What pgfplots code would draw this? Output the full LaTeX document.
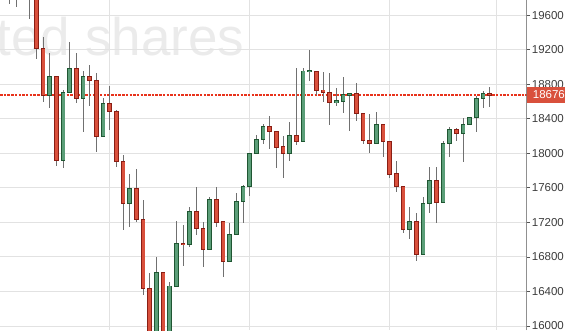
\documentclass[border=0pt]{standalone}
\usepackage{fontspec}
\setmainfont{Liberation Sans}
\usepackage{pgfplots}
\usepackage{pgfplotstable}
\pgfplotsset{compat=1.18}
\definecolor{candlered}{HTML}{D9503C}
\definecolor{pricered}{HTML}{E8331C}
\definecolor{redborder}{HTML}{8A1E14}
\definecolor{candlegreen}{HTML}{5B9E78}
\definecolor{greenborder}{HTML}{1F5632}
\definecolor{wick}{HTML}{707070}
\definecolor{gridc}{HTML}{E2E2E2}
\definecolor{wm}{HTML}{EBEBEB}
\definecolor{labc}{HTML}{3C3C3C}
\definecolor{axc}{HTML}{555555}

\pgfplotstableread{
i O H L C
1 19900 19950 19731 19850
2 19850 19900 19696 19800
3 19920 19960 19800 19880
4 19950 20000 19553 19850
5 19830 19900 19093 19217
6 19217 19352 18595 18673
8 18893 18900 17850 17920
11 18986 19166 18587 18633
13 18893 19024 18552 18847
14 18847 18935 18019 18198
16 18580 18780 18271 18487
17 18487 18502 17845 17903
18 17908 17981 17112 17421
20 17595 17819 17208 17236
21 17236 17460 16359 16437
22 16437 16610 15800 15850
24 16622 16630 15850 15900
27 16956 17170 16698 16944
29 17329 17607 17054 17127
30 17132 17208 16687 16888
32 17468 17607 17150 17201
33 17208 17216 16571 16745
40 18314 18436 18051 18251
41 18256 18260 17834 18070
42 18074 18201 17711 17996
44 18209 18986 18097 18140
47 18951 18955 18676 18731
48 18734 18943 18599 18708
49 18708 18935 18329 18592
53 18691 18819 18378 18460
54 18464 18468 18114 18149
55 18151 18456 18008 18112
57 18337 18340 17954 18140
58 18140 18143 17711 17757
59 17761 17912 17556 17614
60 17618 17620 17074 17120
62 17205 17306 16756 16830
65 17688 17845 17190 17433
68 18274 18290 18147 18232
73 18691 18772 18541 18676
}\redtab

\pgfplotstableread{
i O H L C
7 18673 19159 18529 18893
9 17920 18734 17827 18703
10 18708 19294 18708 18986
12 18633 18954 18251 18893
15 18198 18638 18198 18580
19 17421 17757 17143 17595
23 15850 16796 15800 16622
25 15900 16513 15850 16463
26 16463 17220 16463 16958
28 16946 17382 16918 17329
31 16888 17498 16888 17468
34 16745 17197 16745 17058
35 17062 17537 17062 17445
36 17445 17633 17197 17614
37 17614 18001 17506 18001
38 17996 18213 17996 18163
39 18163 18340 18109 18314
43 17996 18367 17912 18209
45 18140 18986 18140 18954
46 18946 19198 18842 18956
50 18592 18754 18549 18607
51 18599 18888 18471 18684
52 18676 18691 18263 18691
56 18112 18479 18112 18337
61 17120 17382 17008 17205
63 16830 17498 16830 17421
64 17421 17845 17306 17688
66 17433 18143 17433 18117
67 18117 18309 17961 18279
69 18232 18406 17903 18337
70 18337 18425 18337 18418
71 18418 18665 18251 18638
72 18633 18723 18522 18691
}\greentab

\pgfplotsset{
  wickstyle/.style={draw=none, mark=none, mark size=0pt,
    error bars/.cd, y dir=both, y explicit, error mark=none,
    error bar style={draw=wick, line width=0.9pt}},
  bodyouter/.style={draw=none, mark=none, mark size=0pt,
    error bars/.cd, y dir=both, y explicit, error mark=none,
    error bar style={draw=#1, line width=4.6pt}},
  bodyinner/.style={draw=none, mark=none, mark size=0pt,
    error bars/.cd, y dir=both, y explicit, error mark=none,
    error bar style={draw=#1, line width=3.0pt}},
}

\begin{document}
\begin{tikzpicture}
\useasboundingbox (0,0) rectangle (565pt,330pt);
\node[anchor=base west, inner sep=0pt, text=wm, font=\fontsize{53}{53}\selectfont] at (-3.5pt,274pt) {ted shares};
\begin{axis}[
  at={(0,0)}, anchor=south west,
  scale only axis, width=526.7pt, height=330pt,
  xmin=-0.45, xmax=78.55, ymin=15953.6, ymax=19777,
  axis line style={draw=none},
  xtick={16,37,58,74}, xticklabels={}, xtick style={draw=none},
  ytick={16000,16400,...,19600},
  scaled y ticks=false,
  ytick pos=right, yticklabel pos=right,
  tick align=outside, major tick length=3.5pt,
  ytick style={color=axc, line width=0.8pt},
  xmajorgrids, ymajorgrids,
  grid style={color=gridc, line width=0.9pt},
  /pgf/number format/assume math mode=true,
  /pgf/number format/1000 sep={},
  yticklabel style={font=\fontsize{11.5}{12}\selectfont, text=labc, anchor=west, inner sep=0pt, xshift=1.5pt,
    /pgf/number format/fixed, /pgf/number format/precision=0},
]
\addplot[pricered, solid, mark=none, dash pattern=on 2.5pt off 1.2pt, line width=1.1pt] coordinates {(-0.45,18676) (78.55,18676)};

\addplot[wickstyle] table[x=i, y expr={(\thisrow{H}+\thisrow{L})/2}, y error expr={(\thisrow{H}-\thisrow{L})/2}] {\redtab};
\addplot[wickstyle] table[x=i, y expr={(\thisrow{H}+\thisrow{L})/2}, y error expr={(\thisrow{H}-\thisrow{L})/2}] {\greentab};

\addplot[bodyouter=redborder] table[x=i, y expr={(\thisrow{O}+\thisrow{C})/2}, y error expr={abs(\thisrow{O}-\thisrow{C})/2+6}] {\redtab};
\addplot[bodyinner=candlered] table[x=i, y expr={(\thisrow{O}+\thisrow{C})/2}, y error expr={max(abs(\thisrow{O}-\thisrow{C})/2-4,0)}] {\redtab};
\addplot[bodyouter=greenborder] table[x=i, y expr={(\thisrow{O}+\thisrow{C})/2}, y error expr={abs(\thisrow{O}-\thisrow{C})/2+6}] {\greentab};
\addplot[bodyinner=candlegreen] table[x=i, y expr={(\thisrow{O}+\thisrow{C})/2}, y error expr={max(abs(\thisrow{O}-\thisrow{C})/2-4,0)}] {\greentab};

\draw[axc, line width=0.9pt] (rel axis cs:1,0) -- (rel axis cs:1,1);
\coordinate (pricept) at (axis cs:78.55,18676);
\end{axis}
\node[anchor=west, fill=candlered, text=white, inner sep=0pt, minimum height=15.4pt, minimum width=44pt, font=\fontsize{11.5}{12}\selectfont] at (pricept) {18676};
\end{tikzpicture}
\end{document}
